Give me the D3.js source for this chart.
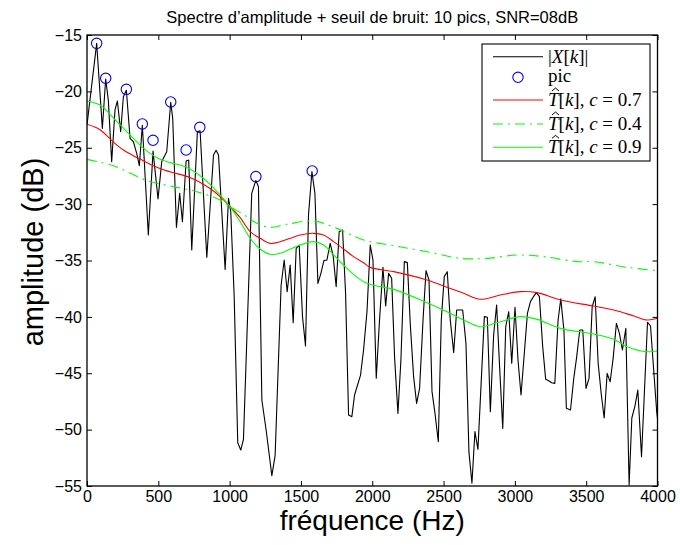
<!DOCTYPE html>
<html><head><meta charset="utf-8">
<script src="https://cdn.jsdelivr.net/npm/d3@7"></script>
<style>body{margin:0;background:#fff} svg{display:block}</style>
</head><body><svg id="c" width="680" height="545"></svg>
<script>
// ---- data ----
const spectrumFreq = [0,67.8,107.6,131,149.7,173,196.5,213,236.3,255,276,302,325,348.5,367,388,430,463,498,524,559,587,601,627,650,669,695,713,734.5,774,793,840,887,905,922,968.6,992,1008,1032,1057,1078,1097,1155,1184,1202,1226,1256,1296,1319,1361,1382.5,1403.5,1424.6,1445.6,1466.7,1487.7,1511,1532,1553,1577,1598,1619,1640,1661,1682,1705,1726,1747,1768,1792,1813,1834,1857,1876,1918,1939,1963,1986,2005,2028,2051,2075,2094,2115,2136,2157,2180,2201,2225,2246,2267,2290,2311,2332,2356,2377,2398,2419,2440,2463,2484,2505,2526,2547,2571,2592,2634,2657,2678,2699,2720,2741,2786,2807,2828,2851,2872,2893,2915,2936,2957,2978,3001,3022,3043,3067,3088,3109,3130,3151,3172,3195,3216,3237,3258,3280,3303,3322,3344,3361,3390,3413,3432,3455,3476,3499,3520,3542,3563,3584,3605,3626,3647,3668,3689,3712,3733,3754,3778,3801,3820,3841,3862,3888,3930,3951,3995,4000];
const spectrumDb = [-22.98,-15.74,-23.28,-18.9,-20.8,-26.23,-21.65,-20.85,-23.57,-20.47,-19.9,-24.17,-24.46,-25.5,-26.59,-23.0,-32.74,-25.3,-29.55,-26.23,-25.35,-20.97,-22.39,-32.06,-29.04,-31.56,-26.17,-26.09,-34.07,-23.57,-23.5,-34.72,-25.64,-25.23,-25.64,-35.8,-29.49,-30.67,-38.21,-51.16,-51.81,-50.86,-29.04,-27.9,-28.45,-47.37,-50.03,-54.08,-52.3,-37.2,-34.96,-37.76,-35.4,-40.51,-33.92,-33.63,-39.98,-42.58,-30.96,-27.12,-29.04,-37.03,-36.14,-35.01,-34.96,-33.48,-34.6,-37.32,-32.44,-32.3,-37.91,-48.7,-48.85,-46.93,-45.16,-42.94,-39.54,-33.63,-34.96,-45.45,-40.28,-35.61,-39.04,-36.14,-36.58,-43.68,-48.56,-43.83,-35.1,-35.19,-40.72,-45.3,-47.67,-46.34,-40.28,-35.9,-36.73,-46.63,-48.56,-51.07,-40.28,-36.43,-35.99,-40.28,-43.17,-39.39,-39.39,-42.35,-52.0,-54.76,-50.18,-51.75,-39.98,-40.04,-48.41,-41.61,-38.95,-44.42,-49.89,-40.87,-39.54,-44.12,-39.15,-43.83,-46.93,-43.09,-39.69,-38.65,-38.21,-37.85,-38.21,-42.64,-45.54,-45.66,-45.84,-45.9,-40.28,-38.4,-41.2,-48.11,-48.26,-45.45,-43.68,-41.16,-41.16,-46.34,-45.45,-39.1,-38.21,-44.12,-46.78,-48.97,-45.01,-45.75,-43.68,-40.57,-41.46,-42.94,-41.02,-54.91,-48.97,-47.96,-46.49,-52.4,-40.48,-40.81,-48.5,-49.0];

const peakFreq = [67.8,131,276,388,463,587,695,791,1184,1579];
const peakDb = [-15.74,-18.84,-19.82,-22.89,-24.34,-20.94,-25.2,-23.19,-27.56,-27.06];

const thrFreqC07 = [0,91,185,255,325,395,465,536,606,676,746,816,887,957,1003,1074,1144,1214,1284,1354,1425,1495,1588,1659,1729,1799,1869,1939,1986,2150,2384,2524,2641,2758,2898,3039,3156,3319,3553,3694,3834,3928,4000];
const thrDbC07 = [-22.92,-23.4,-24.5,-25.2,-25.7,-26.15,-26.6,-26.95,-27.22,-27.45,-27.77,-28.24,-28.84,-29.63,-30.23,-31.2,-32.44,-33.03,-33.48,-33.33,-33.03,-32.74,-32.59,-32.74,-33.33,-33.98,-34.66,-35.2,-35.61,-35.99,-36.73,-37.38,-37.91,-38.44,-38.06,-37.76,-37.85,-38.5,-39.04,-39.39,-39.92,-40.28,-40.13];

const thrFreqC04 = [0,185,419,606,770,933,1003,1097,1191,1284,1401,1588,1752,1939,2150,2384,2618,2805,3015,3202,3436,3553,3787,4000];
const thrDbC04 = [-26.03,-26.6,-27.9,-28.45,-28.9,-29.63,-30.23,-30.92,-31.7,-32.06,-31.79,-31.5,-32.15,-33.18,-33.68,-34.22,-34.81,-34.81,-34.51,-34.66,-35.1,-35.1,-35.61,-35.9];

const thrFreqC09 = [0,91,161,232,302,372,442,512,583,653,723,793,863,933,1003,1074,1144,1214,1284,1354,1425,1495,1588,1659,1729,1799,1869,1939,2009,2150,2384,2524,2641,2758,2898,3039,3156,3319,3553,3694,3788,3928,4000];
const thrDbC09 = [-20.85,-21.21,-22.04,-22.98,-23.87,-24.76,-25.5,-26.03,-26.32,-26.53,-26.88,-27.48,-28.24,-29.19,-30.23,-31.56,-33.03,-33.98,-34.45,-34.36,-33.98,-33.63,-33.33,-33.63,-34.51,-35.4,-36.23,-36.88,-37.2,-37.56,-38.74,-39.54,-40.28,-40.87,-40.43,-39.98,-40.22,-41.02,-41.52,-41.99,-42.64,-43.09,-43.03];

const xTicks = [0,500,1000,1500,2000,2500,3000,3500,4000];
const yTicks = [-55,-50,-45,-40,-35,-30,-25,-20,-15];
const titleText = "Spectre d\u2019amplitude + seuil de bruit: 10 pics, SNR=08dB";
const xLabel = "fréquence (Hz)";
const yLabel = "amplitude (dB)";
const cValues = ["0.7","0.4","0.9"];

// ---- drawing ----
const svg = d3.select("#c");
const SANS = "'Liberation Sans', Arial, Helvetica, sans-serif";
const SERIF = "'Liberation Serif', 'Times New Roman', serif";
svg.append("rect").attr("width",680).attr("height",545).attr("fill","#fff");

const X0=87, X1=657.5, Y0=35, Y1=486;
const x = d3.scaleLinear().domain([0,4000]).range([X0,X1]);
const y = d3.scaleLinear().domain([-55,-15]).range([Y1,Y0]);

svg.append("defs").append("clipPath").attr("id","clip")
  .append("rect").attr("x",X0).attr("y",Y0).attr("width",X1-X0).attr("height",Y1-Y0);

const plot = svg.append("g").attr("clip-path","url(#clip)");

const lineRaw = d3.line().x(d=>x(d[0])).y(d=>y(d[1]));
const lineSmooth = d3.line().x(d=>x(d[0])).y(d=>y(d[1])).curve(d3.curveCatmullRom);

plot.append("path").datum(spectrumFreq.map((f,i)=>[f,spectrumDb[i]]))
  .attr("d",lineRaw).attr("fill","none").attr("stroke","#000").attr("stroke-width",1.1).attr("stroke-linejoin","round");

plot.append("path").datum(thrFreqC07.map((f,i)=>[f,thrDbC07[i]]))
  .attr("d",lineSmooth).attr("fill","none").attr("stroke","#ff0000").attr("stroke-width",1.1);
plot.append("path").datum(thrFreqC04.map((f,i)=>[f,thrDbC04[i]]))
  .attr("d",lineSmooth).attr("fill","none").attr("stroke","#00ff00").attr("stroke-width",1.1)
  .attr("stroke-dasharray","10,5,2,5");
plot.append("path").datum(thrFreqC09.map((f,i)=>[f,thrDbC09[i]]))
  .attr("d",lineSmooth).attr("fill","none").attr("stroke","#00ff00").attr("stroke-width",1.1);

svg.append("g").selectAll("circle").data(peakFreq.map((f,i)=>[f,peakDb[i]])).join("circle")
  .attr("cx",d=>x(d[0])).attr("cy",d=>y(d[1])).attr("r",5.2)
  .attr("fill","none").attr("stroke","#0000ff").attr("stroke-width",1.1);

// axes
function styleAxis(g, labels){
  g.select(".domain").remove();
  g.selectAll("line").attr("stroke","#000").attr("stroke-width",1);
  g.selectAll("text").attr("font-family",SANS).attr("font-size",16).attr("fill","#000");
  if(!labels) g.selectAll("text").remove();
}
svg.append("g").attr("transform",`translate(0,${Y1})`)
  .call(d3.axisBottom(x).tickValues(xTicks).tickSize(-5).tickPadding(5).tickFormat(d3.format("d")))
  .call(g=>styleAxis(g,true));
svg.append("g").attr("transform",`translate(0,${Y0})`)
  .call(d3.axisTop(x).tickValues(xTicks).tickSize(-5))
  .call(g=>styleAxis(g,false));
svg.append("g").attr("transform",`translate(${X0},0)`)
  .call(d3.axisLeft(y).tickValues(yTicks).tickSize(-5).tickPadding(5).tickFormat(d3.format("d")))
  .call(g=>styleAxis(g,true));
svg.append("g").attr("transform",`translate(${X1},0)`)
  .call(d3.axisRight(y).tickValues(yTicks).tickSize(-5))
  .call(g=>styleAxis(g,false));

svg.append("rect").attr("x",X0).attr("y",Y0).attr("width",X1-X0).attr("height",Y1-Y0)
  .attr("fill","none").attr("stroke","#000").attr("stroke-width",1.3);

// title & labels
svg.append("text").attr("x",(X0+X1)/2).attr("y",23).attr("text-anchor","middle")
  .attr("font-family",SANS).attr("font-size",16.5).attr("fill","#000").text(titleText);
svg.append("text").attr("x",(X0+X1)/2).attr("y",530).attr("text-anchor","middle")
  .attr("font-family",SANS).attr("font-size",28).attr("fill","#000").text(xLabel);
svg.append("text").attr("transform",`translate(43,252) rotate(-90)`).attr("text-anchor","middle")
  .attr("font-family",SANS).attr("font-size",29).attr("fill","#000").text(yLabel);

// legend
const LX=482, LY=44, LW=168, LH=117;
const leg = svg.append("g");
leg.append("rect").attr("x",LX).attr("y",LY).attr("width",LW).attr("height",LH)
  .attr("fill","#fff").attr("stroke","#000").attr("stroke-width",1.1);
const rowY = [56.7,77.3,100,124,147.3];
const sx0=493, sx1=543, tx=548, fs=19;
// row 1: |X[k]|
leg.append("line").attr("x1",sx0).attr("x2",sx1).attr("y1",rowY[0]).attr("y2",rowY[0]).attr("stroke","#000").attr("stroke-width",1.1);
const t1 = leg.append("text").attr("x",tx).attr("y",rowY[0]+6).attr("font-family",SERIF).attr("font-size",fs).attr("fill","#000");
t1.append("tspan").text("|");
t1.append("tspan").attr("font-style","italic").text("X");
t1.append("tspan").text("[");
t1.append("tspan").attr("font-style","italic").text("k");
t1.append("tspan").text("]|");
// row 2: pic
leg.append("circle").attr("cx",(sx0+sx1)/2).attr("cy",rowY[1]).attr("r",5.2).attr("fill","none").attr("stroke","#0000ff").attr("stroke-width",1.1);
leg.append("text").attr("x",tx).attr("y",rowY[1]+5).attr("font-family",SERIF).attr("font-size",fs).attr("fill","#000").text("pic");
// rows 3-5
const rowStyles = [{c:"#ff0000",dash:null},{c:"#00ff00",dash:"10,5,2,5"},{c:"#00ff00",dash:null}];
rowStyles.forEach((s,i)=>{
  const yy = rowY[i+2];
  const base = yy+6;
  const ln = leg.append("line").attr("x1",sx0).attr("x2",sx1).attr("y1",yy).attr("y2",yy).attr("stroke",s.c).attr("stroke-width",1.1);
  if(s.dash) ln.attr("stroke-dasharray",s.dash);
  const t = leg.append("text").attr("x",tx).attr("y",base).attr("font-family",SERIF).attr("font-size",fs).attr("fill","#000");
  t.append("tspan").attr("font-style","italic").text("T");
  t.append("tspan").text("[");
  t.append("tspan").attr("font-style","italic").text("k");
  t.append("tspan").text("], ");
  t.append("tspan").attr("font-style","italic").text("c");
  t.append("tspan").text(" = " + cValues[i]);
  // circumflex accent above T
  leg.append("path")
    .attr("d",`M${tx+4},${base-15} L${tx+7.5},${base-18} L${tx+11},${base-15}`)
    .attr("fill","none").attr("stroke","#000").attr("stroke-width",1);
});
</script></body></html>
